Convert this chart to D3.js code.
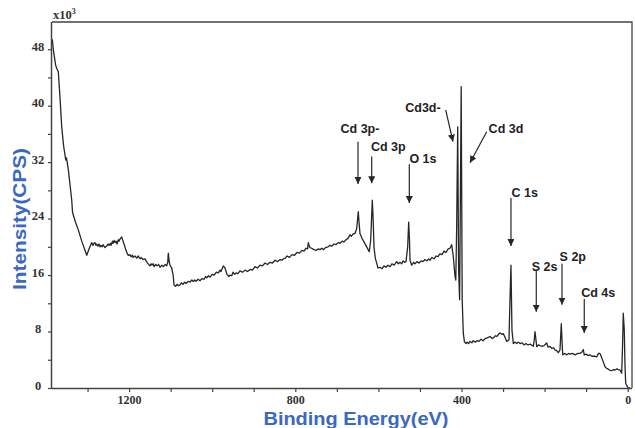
<!DOCTYPE html>
<html>
<head>
<meta charset="utf-8">
<script src="https://cdn.jsdelivr.net/npm/d3@7"></script>
<style>
  html, body { margin: 0; padding: 0; background: #fff; }
  svg { display: block; }
</style>
</head>
<body>
<svg id="chart" width="635" height="428"></svg>
<script>
// ---- Data: [binding energy (eV), intensity (x10^3 CPS)] ----
const spectrum = [
  [1384.8,49.4],[1382.4,47.9],[1376.7,45.7],[1373.5,45.2],[1370.4,44.8],[1366.3,41.1],[1362.2,37.0],[1357.9,34.4],
  [1352.6,32.3],[1350.7,32.6],[1346.3,30.9],[1342.2,28.8],[1338.1,26.6],[1336.2,24.9],[1330.2,23.7],[1322.3,22.4],
  [1313.4,20.7],[1302.0,18.8],[1296.5,19.7],[1290.0,20.6],[1287,20.2],[1285.7,20.4],[1282.1,20.6],[1280,20.2],
  [1278.0,20.4],[1275,20.1],[1272.4,20.4],[1270,20.0],[1267.6,20.2],[1265,20.0],[1262.8,20.3],[1258,19.9],
  [1253.9,20.1],[1251,20.4],[1248.3,20.2],[1245,20.5],[1243.5,20.2],[1240,20.8],[1238.7,20.5],[1236,20.9],
  [1233.9,20.6],[1231,20.8],[1229.1,20.4],[1226,21.0],[1224.3,20.8],[1221,21.2],[1217.8,21.4],[1214,20.7],
  [1212.3,20.4],[1207.5,19.5],[1204,19.0],[1201.9,18.8],[1198,18.9],[1195.4,18.6],[1192,18.8],[1190.6,18.5],
  [1186,18.7],[1181.7,18.4],[1178,18.7],[1176.2,18.5],[1173,18.3],[1171.4,18.5],[1166,18.2],[1161.7,18.3],
  [1159,18.0],[1156.9,17.8],[1153,17.5],[1149.7,17.3],[1147,17.6],[1144.9,17.4],[1142,17.6],[1140.1,17.2],
  [1136,17.5],[1132.9,17.3],[1129,17.5],[1125.6,17.1],[1121,17.4],[1117.7,17.2],[1113,17.5],[1109.5,17.3],
  [1107,17.8],[1105.7,19.1],[1103.2,17.8],[1101.6,17.4],[1097.5,17.0],[1094,16.0],[1091.9,14.6],[1088,14.4],
  [1084.7,14.7],[1081,14.5],[1077.5,14.6],[1074,14.9],[1070.3,14.7],[1066,15.0],[1063.1,14.8],[1058,15.1],
  [1053.4,15.0],[1049,15.3],[1045.5,15.1],[1042,15.3],[1039.0,15.1],[1034,15.4],[1029.4,15.2],[1025,15.5],
  [1019.7,15.4],[1016,15.8],[1013.2,15.6],[1009,15.9],[1005.3,15.7],[1000,16.1],[995.7,16.0],[990,16.4],
  [985.3,16.3],[981,16.7],[978.8,16.5],[973.3,17.3],[969.2,17.0],[964.4,16.1],[960,15.8],[957.2,16.0],
  [953,15.9],[949.9,16.4],[946,16.1],[942.7,16.3],[938,16.2],[933.1,16.6],[927,16.4],[921.1,16.7],
  [915,16.5],[909,16.8],[903,16.7],[897,17.2],[891,17.0],[885,17.4],[879,17.3],[872.9,17.7],
  [867,17.5],[860.9,17.8],[855,17.7],[848.9,18.1],[843,17.9],[836.8,18.2],[832,18.1],[828.9,18.3],
  [824,18.4],[820,18.7],[814,18.5],[808,18.9],[802,18.8],[795.9,19.2],[790,19.1],[783.9,19.5],
  [779,19.4],[774.3,19.8],[770.5,19.7],[768.7,20.6],[766.5,20.1],[764.6,19.9],[760.5,19.8],[755,19.6],
  [750.2,19.5],[745,19.7],[740.6,19.6],[736,19.8],[732.6,19.6],[727,19.9],[721.3,20.0],[716,20.2],
  [711.7,20.1],[707,20.4],[702.1,20.3],[697,20.6],[692.4,20.5],[687,20.8],[682.8,20.7],[678,21.0],
  [673.2,21.2],[668.4,21.7],[665,21.5],[661.2,21.8],[656.4,21.9],[652.2,22.6],[648.4,25.0],[646.7,23.5],
  [644.3,21.9],[639.5,21.2],[634.7,20.7],[628.2,20.0],[622.0,19.3],[618.5,21.0],[614.7,26.6],[613.0,24.5],
  [610.6,20.0],[607.5,18.4],[604.1,17.7],[601.0,17.0],[596.2,17.1],[591,16.9],[586.6,17.3],[582,17.1],
  [577.0,17.4],[572,17.2],[567.3,17.6],[562,17.4],[556.0,17.9],[552,17.6],[548.1,17.8],[544,17.6],
  [540.8,18.0],[537,17.8],[533.6,17.9],[529.5,20.0],[527.1,23.5],[525.2,21.0],[523.9,18.1],[519.9,17.4],
  [515,17.8],[511.9,17.6],[507,17.9],[502.3,17.7],[497,18.0],[492.7,17.9],[488,18.2],[483.0,18.0],
  [479,18.3],[475.8,18.1],[471,18.5],[466.2,18.3],[461,18.7],[456.6,18.6],[452,19.0],[446.9,18.9],
  [442,19.4],[437.3,19.2],[432,19.7],[427.7,19.8],[423.6,20.3],[419.7,18.6],[415.6,15.8],[413.7,15.3],
  [411.6,22.8],[409.1,37.0],[406.9,16.7],[404.5,12.5],[400.7,42.7],[398.3,12.5],[395.7,7.8],[392.8,6.5],
  [389,6.3],[386.8,6.5],[383,6.3],[379.5,6.6],[375,6.4],[371.6,6.7],[367,6.5],[362.7,6.7],
  [358,6.6],[353.1,6.9],[348,6.7],[343.4,7.0],[338,7.1],[331.4,7.3],[326,7.0],[321.8,7.2],
  [318,7.4],[314.6,7.3],[311,7.6],[307.3,7.8],[303,7.6],[299.4,7.7],[295.3,7.2],[291.2,6.6],
  [285.7,6.8],[283.3,12.5],[280.9,17.4],[278.5,8.2],[275.3,6.3],[271,6.5],[267.1,6.3],[263,6.5],
  [259.2,6.3],[254,6.4],[249.6,6.1],[245,6.3],[240.0,6.1],[234,6.2],[227.2,5.9],[224.8,6.8],
  [223.1,8.0],[220.7,6.8],[219.0,5.85],[215,6.1],[211.1,6.0],[206,5.9],[201.4,6.0],[198,6.2],
  [194.9,6.4],[191.8,5.8],[187,5.9],[182.2,5.6],[178,5.7],[175.0,5.4],[171,5.3],[167.0,5.0],
  [162.9,5.4],[159.8,9.1],[158.1,6.8],[156.4,4.7],[151,4.9],[146.8,4.7],[142,4.9],[138.9,4.8],
  [133,4.9],[126.8,4.7],[120,4.9],[114.8,4.9],[110.0,5.1],[106.9,5.45],[104.5,4.7],[100,4.8],
  [95.5,4.6],[91,4.7],[85.9,4.5],[80,4.5],[74.6,4.4],[70.3,4.9],[66.7,4.9],[61.9,4.2],
  [54.6,3.0],[51,2.8],[47.4,2.7],[43,2.5],[38.5,2.45],[34,2.6],[30.6,2.55],[26,2.7],
  [22.6,2.6],[18.5,2.55],[14.4,2.1],[12.3,6.1],[10.6,10.6],[8.2,8.2],[6.5,3.3],[4.8,0.67],
  [1.7,0.3],[-1.4,0.0],[-5.5,0.0]
];
const xTicks = [1300,1200,1100,1000,900,800,700,600,500,400,300,200,100,0];
const xTickLabels = ["1200","800","400","0"];
const yTicks = [0,4,8,12,16,20,24,28,32,36,40,44,48];
const yTickLabels = ["0","8","16","24","32","40","48"];

// Peak annotations: label, label anchor (BE, I), arrow from (BE, I) to (BE, I)
const peakLabels = ["Cd 3p-","Cd 3p","O 1s","Cd3d-","Cd 3d","C 1s","S 2s","S 2p","Cd 4s"];
const labelBE =    [644.3, 576.1, 492.7, 492.7, 292.9, 247.9, 199.8, 132.1, 70.8];
const labelI =     [36.1, 33.6, 31.9, 39.1, 36.1, 27.05, 16.6, 18.0, 12.9];
const arrowFromBE = [649.1, 616.1, 525.6, 438.0, 339.4, 280.9, 220.0, 158.1, 104.5];
const arrowFromI =  [34.9, 32.8, 31.7, 39.4, 36.3, 26.9, 16.6, 17.6, 12.6];
const arrowToBE =   [649.1, 616.1, 525.6, 420.5, 379.5, 280.9, 220.0, 158.1, 104.5];
const arrowToI =    [28.9, 29.0, 26.2, 34.9, 31.9, 20.1, 10.8, 11.8, 7.8];

// ---- Layout ----
const L = 52, R = 632, T = 22, B = 388;
const svg = d3.select("#chart");
const x = d3.scaleLinear().domain([1385.6, -10.4]).range([L, R]);
const y = d3.scaleLinear().domain([0, 51.85]).range([B, T]);
const serif = "'Liberation Serif','Times New Roman',serif";
const sans = "'Liberation Sans',Arial,Helvetica,sans-serif";
const blue = "#3b68c3";
const ink = "#262626";

svg.append("defs").append("marker")
  .attr("id", "ah").attr("viewBox", "0 0 10 10")
  .attr("refX", 10).attr("refY", 5)
  .attr("markerWidth", 7).attr("markerHeight", 7)
  .attr("markerUnits", "userSpaceOnUse")
  .attr("orient", "auto")
  .append("path").attr("d", "M0,0 L10,5 L0,10 Z").attr("fill", ink);

// frame (top and right)
svg.append("path")
  .attr("d", `M${L},${T} H${R} V${B}`)
  .attr("fill", "none").attr("stroke", "#444").attr("stroke-width", 1.3);

// spectrum
svg.append("path")
  .datum(spectrum)
  .attr("fill", "none")
  .attr("stroke", ink)
  .attr("stroke-width", 1.3)
  .attr("stroke-linejoin", "round")
  .attr("d", d3.line().x(d => x(d[0])).y(d => y(d[1])));

// axes
const xAxis = d3.axisBottom(x).tickValues(xTicks).tickSize(4)
  .tickFormat(d => xTickLabels.includes(String(d)) ? String(d) : "");
const gx = svg.append("g").attr("transform", `translate(0,${B})`).call(xAxis);
gx.select(".domain").attr("stroke", "#444").attr("stroke-width", 1.5)
  .attr("d", `M${L},0.5H${R}`);
gx.selectAll(".tick line").attr("stroke", "#444").attr("stroke-width", 1.2);
gx.selectAll(".tick text").attr("font-family", serif).attr("font-weight", "bold")
  .attr("font-size", 12).attr("fill", "#333").attr("dy", "0.75em");

const yAxis = d3.axisLeft(y).tickValues(yTicks).tickSize(4)
  .tickFormat(d => yTickLabels.includes(String(d)) ? String(d) : "");
const gy = svg.append("g").attr("transform", `translate(${L},0)`).call(yAxis);
gy.select(".domain").attr("stroke", "#444").attr("stroke-width", 1.5)
  .attr("d", `M-0.5,${T}V${B}`);
gy.selectAll(".tick line").attr("stroke", "#444").attr("stroke-width", 1.2);
gy.selectAll(".tick text").attr("font-family", serif).attr("font-weight", "bold")
  .attr("font-size", 12.5).attr("fill", "#333")
  .attr("text-anchor", "middle").attr("x", -14).attr("dy", "0.1em");

// x10^3 multiplier
const mult = svg.append("text").attr("x", L + 1).attr("y", 19)
  .attr("font-family", serif).attr("font-weight", "bold").attr("font-size", 12.5).attr("fill", "#333");
mult.append("tspan").text("x10");
mult.append("tspan").attr("font-size", 8).attr("dy", -5).text("3");

// axis titles
svg.append("text")
  .attr("x", 356).attr("y", 424.5)
  .attr("text-anchor", "middle")
  .attr("font-family", sans).attr("font-weight", "bold").attr("font-size", 18.5)
  .attr("fill", blue)
  .attr("textLength", 185).attr("lengthAdjust", "spacingAndGlyphs")
  .text("Binding Energy(eV)");
svg.append("text")
  .attr("transform", "translate(26,219) rotate(-90)")
  .attr("text-anchor", "middle")
  .attr("font-family", sans).attr("font-weight", "bold").attr("font-size", 18)
  .attr("fill", blue)
  .attr("textLength", 142).attr("lengthAdjust", "spacingAndGlyphs")
  .text("Intensity(CPS)");

// peak annotations
const ann = svg.append("g");
peakLabels.forEach((lab, i) => {
  ann.append("line")
    .attr("x1", x(arrowFromBE[i])).attr("y1", y(arrowFromI[i]))
    .attr("x2", x(arrowToBE[i])).attr("y2", y(arrowToI[i]))
    .attr("stroke", ink).attr("stroke-width", 1.2)
    .attr("marker-end", "url(#ah)");
  ann.append("text")
    .attr("x", x(labelBE[i])).attr("y", y(labelI[i]))
    .attr("text-anchor", "middle")
    .attr("font-family", sans).attr("font-weight", "bold").attr("font-size", 12.5)
    .attr("fill", "#222")
    .text(lab);
});
</script>
</body>
</html>
